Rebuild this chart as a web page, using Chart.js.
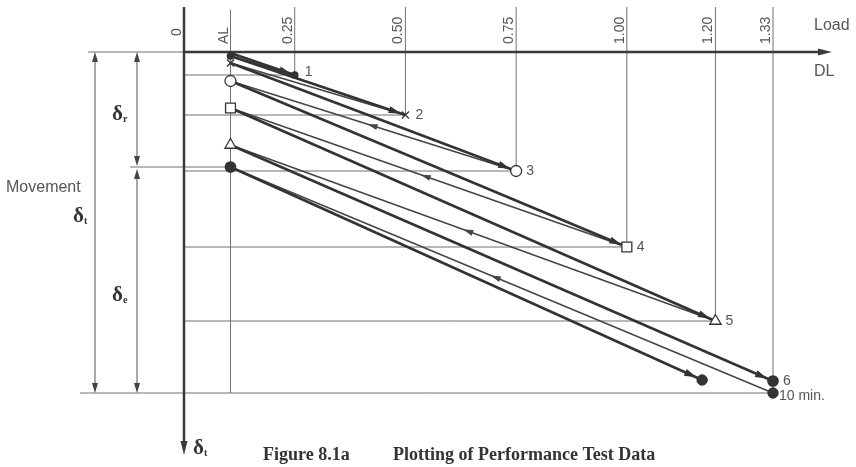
<!DOCTYPE html>
<html>
<head>
<meta charset="utf-8">
<script src="https://cdn.jsdelivr.net/npm/chart.js@4.4.1/dist/chart.umd.min.js"></script>
<style>
  body { margin: 0; background: #fff; }
  #wrap { width: 856px; height: 467px; position: relative; }
</style>
</head>
<body>
<div id="wrap"><canvas id="perfChart"></canvas></div>
<script>
// load axis (fraction of design load DL)
const tickLabels = ['0', 'AL', '0.25', '0.50', '0.75', '1.00', '1.20', '1.33'];
const tickValues = [0, 0.105, 0.25, 0.50, 0.75, 1.00, 1.20, 1.33];
const AL = 0.105;

// test cycles
const cycleLoads = [0.25, 0.50, 0.75, 1.00, 1.20, 1.33];
const peakMove = [2.3, 6.3, 11.9, 19.5, 26.9, 32.9];     // total movement at cycle load
const residualMove = [0.4, 1.1, 2.9, 5.6, 9.3, 11.5];    // movement back at AL
const startMove = 0.1;
const creepMove = 34.1;        // 10 min. reading at 1.33 DL
const lockoffLoad = 1.17;
const lockoffMove = 32.8;
const pointLabels = ['1', '2', '3', '4', '5', '6'];
const markerStyles = ['circle', 'crossRot', 'circle', 'rect', 'triangle', 'circle'];
const markerFilled = [true, false, false, false, false, true];
const markerSizes = [3.2, 5, 5.5, 7, 6.5, 5.2];
const arrowGaps = [4, 5, 6.5, 6, 6, 6.5];

const INK = '#333';
const SANS = '"Liberation Sans", Arial, sans-serif';
const SERIF = '"Liberation Serif", "Times New Roman", serif';

const datasets = [];

// markers (drawn on top)
cycleLoads.forEach((ld, i) => {
  datasets.push({
    data: [{ x: ld, y: peakMove[i] }, { x: AL, y: residualMove[i] }],
    showLine: false,
    pointStyle: markerStyles[i],
    pointRadius: markerSizes[i],
    pointBackgroundColor: markerFilled[i] ? INK : '#fff',
    pointBorderColor: INK,
    pointBorderWidth: 1.3,
    clip: false,
    order: 0
  });
});
datasets.push({
  data: [{ x: 1.33, y: creepMove }, { x: lockoffLoad, y: lockoffMove }],
  showLine: false,
  pointRadius: 5.2,
  pointBackgroundColor: INK,
  pointBorderColor: INK,
  clip: false,
  order: 0
});

// loading lines (thick)
const loadLines = [];
cycleLoads.forEach((ld, i) => {
  const from = { x: AL, y: i === 0 ? startMove : residualMove[i - 1] };
  loadLines.push([from, { x: ld, y: peakMove[i] }, arrowGaps[i]]);
});
loadLines.push([{ x: AL, y: residualMove[5] }, { x: lockoffLoad, y: lockoffMove }, 6.5]);
loadLines.forEach(l => {
  datasets.push({
    data: [l[0], l[1]], showLine: true, borderColor: INK, borderWidth: 2.6,
    pointRadius: 0, clip: false, order: 1
  });
});

// unloading lines (thin)
const unloadLines = [];
cycleLoads.forEach((ld, i) => {
  const from = i === 5 ? { x: ld, y: creepMove } : { x: ld, y: peakMove[i] };
  unloadLines.push([from, { x: AL, y: residualMove[i] }]);
});
unloadLines.forEach(l => {
  datasets.push({
    data: l, showLine: true, borderColor: '#444', borderWidth: 1.5,
    pointRadius: 0, clip: false, order: 1
  });
});

function arrowHead(ctx, x1, y1, x2, y2, len, half) {
  const a = Math.atan2(y2 - y1, x2 - x1);
  ctx.beginPath();
  ctx.moveTo(x2, y2);
  ctx.lineTo(x2 - len * Math.cos(a) + half * Math.sin(a), y2 - len * Math.sin(a) - half * Math.cos(a));
  ctx.lineTo(x2 - len * Math.cos(a) - half * Math.sin(a), y2 - len * Math.sin(a) + half * Math.cos(a));
  ctx.closePath();
  ctx.fill();
}

function line(ctx, x1, y1, x2, y2) {
  ctx.beginPath();
  ctx.moveTo(x1, y1);
  ctx.lineTo(x2, y2);
  ctx.stroke();
}

function delta(ctx, x, y, sub) {
  ctx.font = 'bold 21px ' + SERIF;
  ctx.textAlign = 'left';
  ctx.textBaseline = 'alphabetic';
  ctx.fillText('δ', x, y);
  const w = ctx.measureText('δ').width;
  ctx.font = 'bold 10px ' + SERIF;
  ctx.fillText(sub, x + w, y + 2);
}

const decor = {
  id: 'decor',
  beforeDatasetsDraw(chart) {
    const ctx = chart.ctx;
    const X = chart.scales.x, Y = chart.scales.y;
    const px = v => X.getPixelForValue(v), py = v => Y.getPixelForValue(v);
    const x0 = px(0), y0 = py(0), yB = py(creepMove);
    ctx.save();

    // guide lines
    ctx.strokeStyle = '#707070';
    ctx.lineWidth = 1;
    tickValues.forEach((v, k) => {
      if (k === 0) return;
      let bottom;
      if (k === 1 || v === 1.33) bottom = yB;
      else bottom = py(peakMove[cycleLoads.indexOf(v)]);
      line(ctx, px(v), k === 1 ? 10 : 7, px(v), bottom);
    });
    for (let i = 0; i < 5; i++) line(ctx, x0, py(peakMove[i]), px(cycleLoads[i]), py(peakMove[i]));
    line(ctx, 80, yB, px(1.33), yB);
    line(ctx, 88, y0, x0, y0);
    line(ctx, 130, py(residualMove[5]), px(AL), py(residualMove[5]));

    // dimension arrows
    ctx.fillStyle = '#444';
    ctx.strokeStyle = '#555';
    const yR = py(residualMove[5]);
    line(ctx, 95, y0 + 8, 95, yB - 8);
    arrowHead(ctx, 95, y0 + 20, 95, y0, 10, 3);
    arrowHead(ctx, 95, yB - 20, 95, yB, 10, 3);
    line(ctx, 137, y0 + 8, 137, yR - 8);
    arrowHead(ctx, 137, y0 + 20, 137, y0, 10, 3);
    arrowHead(ctx, 137, yR - 20, 137, yR - 1, 10, 3);
    line(ctx, 137, yR + 10, 137, yB - 8);
    arrowHead(ctx, 137, yR + 20, 137, yR + 2, 10, 3);
    arrowHead(ctx, 137, yB - 20, 137, yB, 10, 3);

    // axes
    ctx.strokeStyle = '#3a3a3a';
    ctx.fillStyle = '#3a3a3a';
    ctx.lineWidth = 2.5;
    line(ctx, x0, y0, 822, y0);
    arrowHead(ctx, 800, y0, 832, y0, 14, 3.5);
    line(ctx, x0, 7, x0, 444);
    arrowHead(ctx, x0, 420, x0, 455, 14, 3.5);

    // rotated tick labels
    ctx.fillStyle = '#555';
    ctx.font = '14px ' + SANS;
    ctx.textAlign = 'left';
    ctx.textBaseline = 'alphabetic';
    tickValues.forEach((v, k) => {
      ctx.save();
      ctx.translate(px(v) - 3, k === 0 ? 36 : 44);
      ctx.rotate(-Math.PI / 2);
      ctx.fillText(tickLabels[k], 0, 0);
      ctx.restore();
    });

    ctx.font = '16px ' + SANS;
    ctx.fillText('Load', 814, 30);
    ctx.fillText('DL', 814, 76);
    ctx.fillText('Movement', 6, 192);

    ctx.fillStyle = '#333';
    delta(ctx, 112, 120, 'r');
    delta(ctx, 73, 222, 't');
    delta(ctx, 112, 301, 'e');
    delta(ctx, 193, 454, 't');

    ctx.font = 'bold 18px ' + SERIF;
    ctx.fillText('Figure 8.1a', 263, 460);
    ctx.fillText('Plotting of Performance Test Data', 393, 460);
    ctx.restore();
  },
  afterDatasetsDraw(chart) {
    const ctx = chart.ctx;
    const X = chart.scales.x, Y = chart.scales.y;
    const px = v => X.getPixelForValue(v), py = v => Y.getPixelForValue(v);
    ctx.save();
    ctx.fillStyle = INK;
    loadLines.forEach(l => {
      const x1 = px(l[0].x), y1 = py(l[0].y), x2 = px(l[1].x), y2 = py(l[1].y);
      const d = Math.hypot(x2 - x1, y2 - y1);
      const tx = x2 - (x2 - x1) / d * l[2], ty = y2 - (y2 - y1) / d * l[2];
      arrowHead(ctx, x1, y1, tx, ty, 12, 3.6);
    });
    ctx.fillStyle = '#444';
    unloadLines.forEach((l, i) => {
      if (i < 2) return;
      const x1 = px(l[0].x), y1 = py(l[0].y), x2 = px(l[1].x), y2 = py(l[1].y);
      const t = 0.52;
      const mx = x1 + (x2 - x1) * t, my = y1 + (y2 - y1) * t;
      arrowHead(ctx, x1, y1, mx, my, 10, 3);
    });

    ctx.fillStyle = '#555';
    ctx.font = '14px ' + SANS;
    ctx.textAlign = 'left';
    ctx.textBaseline = 'middle';
    cycleLoads.forEach((ld, i) => {
      ctx.fillText(pointLabels[i], px(ld) + 10, py(peakMove[i]) - (i === 0 ? 3 : 0));
    });
    ctx.fillText('10 min.', px(1.33) + 6, py(creepMove) + 3);
    ctx.restore();
  }
};

new Chart(document.getElementById('perfChart'), {
  type: 'scatter',
  data: { datasets },
  options: {
    responsive: true,
    maintainAspectRatio: false,
    animation: false,
    layout: { padding: { left: 184, right: 83, top: 52, bottom: 74 } },
    plugins: { legend: { display: false }, tooltip: { enabled: false } },
    scales: {
      x: { type: 'linear', min: 0, max: 1.33, display: false },
      y: { min: 0, max: creepMove, reverse: true, display: false }
    }
  },
  plugins: [decor]
});
</script>
</body>
</html>
